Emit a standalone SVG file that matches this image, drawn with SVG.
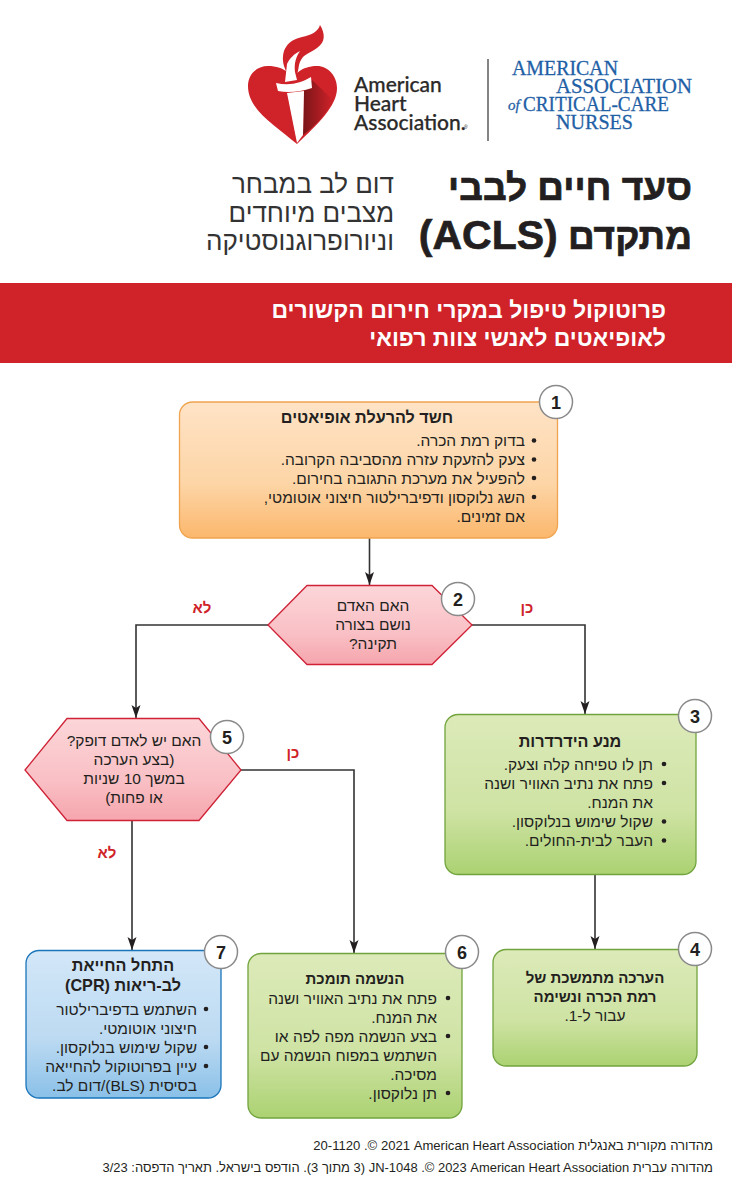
<svg xmlns="http://www.w3.org/2000/svg" width="732" height="1200" viewBox="0 0 732 1200">
<style>
text{font-family:"Liberation Sans",Arial,sans-serif;fill:#231f20}
.r{direction:rtl;text-anchor:start}
.m{direction:rtl;text-anchor:middle}
.b{font-size:15.500px}
.t{font-size:16.200px;font-weight:700}
.t2{font-size:15px;font-weight:700}
.bd{fill:#fff;stroke:#8a8a8a;stroke-width:1.5}
.n{font-size:18px;font-weight:700;text-anchor:middle}
.y{font-size:15px;font-weight:700;fill:#cf2229;text-anchor:middle;direction:rtl}
.dot{fill:#231f20}
.c{fill:none;stroke:#333;stroke-width:1.6;marker-end:url(#a)}
.aa{font-family:"Liberation Serif",serif;font-size:21px;fill:#1f5fa6;stroke:#1f5fa6;stroke-width:.3px}
.ah{font-family:Lato,"Liberation Sans",sans-serif;font-size:21px;font-weight:500;fill:#2b2a29;stroke:#2b2a29;stroke-width:.25px}
.h{font-size:37px;font-weight:700;stroke:#231f20;stroke-width:.7px}
.s{font-size:26px;fill:#333}
.w{font-size:23px;font-weight:700;fill:#fff}
.f{font-size:13px}
</style>
<defs>
<linearGradient id="go" x1="0" y1="0" x2="0" y2="1"><stop offset="0" stop-color="#fee3c6"/><stop offset=".6" stop-color="#fdd5a6"/><stop offset="1" stop-color="#fbb76c"/></linearGradient>
<linearGradient id="gg" x1="0" y1="0" x2="0" y2="1"><stop offset="0" stop-color="#dceab9"/><stop offset=".6" stop-color="#cfe3a4"/><stop offset="1" stop-color="#abd272"/></linearGradient>
<linearGradient id="gp" x1="0" y1="0" x2="0" y2="1"><stop offset="0" stop-color="#fcd6d9"/><stop offset=".6" stop-color="#f9c0c5"/><stop offset="1" stop-color="#f6a5ad"/></linearGradient>
<linearGradient id="gb" x1="0" y1="0" x2="0" y2="1"><stop offset="0" stop-color="#d3e7f8"/><stop offset=".6" stop-color="#bcdaf2"/><stop offset="1" stop-color="#8ac0e8"/></linearGradient>
<linearGradient id="gs" x1="0" y1="0" x2="1" y2="0"><stop offset="0" stop-color="#7a1518"/><stop offset="1" stop-color="#cf2229"/></linearGradient>
<marker id="a" markerUnits="userSpaceOnUse" markerWidth="14" markerHeight="12" refX="13" refY="5" orient="auto"><path d="M0 .5L13 5L0 9.500L3 5Z" fill="#231f20"/></marker>
</defs>
<rect width="732" height="1200" fill="#fff"/>

<g id="logo-aha">
<path d="M297 144C275 125 248 110 248 86C248 74 257 66 268 66C276 66 283 68 290 74L297 73C303 68 309 66 317 66C328 66 337 76 337 88C337 106 318 124 297 144Z" fill="#cf2229"/>
<path d="M304 91L312 80L333 100C327 113 316 125 303 135Z" fill="url(#gs)"/>
<path d="M287 93L304 91L303 135L297 143Z" fill="#fff"/>
<path d="M284 66C280 50 288 40 302 37C311 35 318 32 320 25C325 33 326 42 317 48C310 53 304 54 301 60C298 65 299 70 297 74L287 74Z" fill="#cf2229"/>
<path d="M285 82L287 64C290 58 294 54 300 51C296 57 294 63 295 72L297 80Z" fill="#fff"/>
<path d="M276 83C290 86 301 83 311 77L312 88C300 92 288 93 278 91Z" fill="#fff"/>
<text class="ah" x="354" y="92">American</text>
<text class="ah" x="354" y="111">Heart</text>
<text class="ah" x="354" y="129.500">Association.</text>
<text x="464" y="129" font-size="5" style="fill:#2b2a29">®</text>
</g>
<path d="M488 59V141" stroke="#333" stroke-width="1.200"/>
<g id="logo-aacn">
<text class="aa" x="512" y="75" textLength="106" lengthAdjust="spacingAndGlyphs">AMERICAN</text>
<text class="aa" x="556" y="93" textLength="136" lengthAdjust="spacingAndGlyphs">ASSOCIATION</text>
<text class="aa" x="508" y="110" style="font-size:15px;font-style:italic">of</text>
<text class="aa" x="523" y="111" textLength="146" lengthAdjust="spacingAndGlyphs">CRITICAL-CARE</text>
<text class="aa" x="556" y="129" textLength="77" lengthAdjust="spacingAndGlyphs">NURSES</text>
</g>

<g id="header">
<text class="r h" x="692" y="200">סעד חיים לבבי</text>
<text class="r h" x="692" y="249">מתקדם <tspan font-size="41">(ACLS)</tspan></text>
<text class="r s" x="394" y="193">דום לב במבחר</text>
<text class="r s" x="394" y="222">מצבים מיוחדים</text>
<text class="r s" x="394" y="250">וניורופרוגנוסטיקה</text>
</g>
<g id="band">
<rect x="0" y="283" width="732" height="80" fill="#cf2229"/>
<text class="r w" x="666" y="318">פרוטוקול טיפול במקרי חירום הקשורים</text>
<text class="r w" x="666" y="346">לאופיאטים לאנשי צוות רפואי</text>
</g>

<g id="connectors">
<path class="c" d="M369.500 538V585"/>
<path class="c" d="M268 625H136V718"/>
<path class="c" d="M472 625H585V714"/>
<path class="c" d="M595 874V949"/>
<path class="c" d="M241 770H354V953"/>
<path class="c" d="M132 821V950"/>
</g>
<g id="edge-labels">
<text class="y" x="202" y="613">לא</text>
<text class="y" x="527" y="613">כן</text>
<text class="y" x="293" y="758">כן</text>
<text class="y" x="107" y="858">לא</text>
</g>

<g id="node1">
<rect x="179.500" y="402" width="378" height="136" rx="13" fill="url(#go)" stroke="#f0a44f" stroke-width="1.300"/>
<text class="m t" x="367" y="423">חשד להרעלת אופיאטים</text>
<circle class="dot" cx="534" cy="440.500" r="2.300"/><text class="r b" x="525" y="446">בדוק רמת הכרה.</text>
<circle class="dot" cx="534" cy="459.500" r="2.300"/><text class="r b" x="525" y="464.500">צעק להזעקת עזרה מהסביבה הקרובה.</text>
<circle class="dot" cx="534" cy="478" r="2.300"/><text class="r b" x="525" y="483.500">להפעיל את מערכת התגובה בחירום.</text>
<circle class="dot" cx="534" cy="497" r="2.300"/><text class="r b" x="525" y="502.500">השג נלוקסון ודפיברילטור חיצוני אוטומטי,</text>
<text class="r b" x="525" y="521.500">אם זמינים.</text>
<circle class="bd" cx="556" cy="402" r="16.500"/><text class="n" x="556" y="408.500">1</text>
</g>

<g id="node2">
<path d="M268 625L307 585.500H432L472 625L432 664.500H307Z" fill="url(#gp)" stroke="#cf2237" stroke-width="1.300"/>
<text class="m b" x="373" y="611">האם האדם</text>
<text class="m b" x="373" y="630">נושם בצורה</text>
<text class="m b" x="373" y="649">תקינה?</text>
<circle class="bd" cx="458" cy="599" r="16.500"/><text class="n" x="458" y="605.500">2</text>
</g>

<g id="node3">
<rect x="445" y="714.500" width="251" height="160" rx="13" fill="url(#gg)" stroke="#72a43e" stroke-width="1.300"/>
<text class="m t" x="570" y="747">מנע הידרדרות</text>
<circle class="dot" cx="664" cy="764" r="2.300"/><text class="r b" x="653" y="769.500">תן לו טפיחה קלה וצעק.</text>
<circle class="dot" cx="664" cy="783" r="2.300"/><text class="r b" x="653" y="788.500">פתח את נתיב האוויר ושנה</text>
<text class="r b" x="653" y="807.500">את המנח.</text>
<circle class="dot" cx="664" cy="821.500" r="2.300"/><text class="r b" x="653" y="826.500">שקול שימוש בנלוקסון.</text>
<circle class="dot" cx="664" cy="840.500" r="2.300"/><text class="r b" x="653" y="845.500">העבר לבית-החולים.</text>
<circle class="bd" cx="695" cy="716" r="16.500"/><text class="n" x="695" y="722.500">3</text>
</g>

<g id="node4">
<rect x="493" y="949.500" width="204" height="116.500" rx="13" fill="url(#gg)" stroke="#72a43e" stroke-width="1.300"/>
<text class="m t2" x="595" y="983">הערכה מתמשכת של</text>
<text class="m t2" x="595" y="1002">רמת הכרה ונשימה</text>
<text class="m b" x="595" y="1021">עבור ל-1.</text>
<circle class="bd" cx="695" cy="949" r="16.500"/><text class="n" x="695" y="955.500">4</text>
</g>

<g id="node5">
<path d="M25 770L67 718.500H199L241 770L199 820.500H67Z" fill="url(#gp)" stroke="#cf2237" stroke-width="1.300"/>
<text class="m b" x="134" y="746">האם יש לאדם דופק?</text>
<text class="m b" x="134" y="765">(בצע הערכה</text>
<text class="m b" x="134" y="784">במשך 10 שניות</text>
<text class="m b" x="134" y="803">או פחות)</text>
<circle class="bd" cx="227" cy="737" r="16.500"/><text class="n" x="227" y="743.500">5</text>
</g>

<g id="node6">
<rect x="248" y="953.500" width="214" height="164.500" rx="13" fill="url(#gg)" stroke="#72a43e" stroke-width="1.300"/>
<text class="m t2" x="355" y="984">הנשמה תומכת</text>
<circle class="dot" cx="448" cy="998" r="2.300"/><text class="r b" x="437" y="1003.500">פתח את נתיב האוויר ושנה</text>
<text class="r b" x="437" y="1022.500">את המנח.</text>
<circle class="dot" cx="448" cy="1036" r="2.300"/><text class="r b" x="437" y="1041.500">בצע הנשמה מפה לפה או</text>
<text class="r b" x="437" y="1060.500">השתמש במפוח הנשמה עם</text>
<text class="r b" x="437" y="1079.500">מסיכה.</text>
<circle class="dot" cx="448" cy="1093" r="2.300"/><text class="r b" x="437" y="1098.500">תן נלוקסון.</text>
<circle class="bd" cx="462" cy="952" r="16.500"/><text class="n" x="462" y="958.500">6</text>
</g>

<g id="node7">
<rect x="26" y="950.500" width="195" height="147.500" rx="13" fill="url(#gb)" stroke="#1a75bb" stroke-width="1.300"/>
<text class="m t" x="123" y="971">התחל החייאת</text>
<text class="m t" x="123" y="991">לב-ריאות (CPR)</text>
<circle class="dot" cx="206" cy="1009" r="2.300"/><text class="r b" x="197" y="1014.500">השתמש בדפיברילטור</text>
<text class="r b" x="197" y="1033.500">חיצוני אוטומטי.</text>
<circle class="dot" cx="206" cy="1047" r="2.300"/><text class="r b" x="197" y="1052.500">שקול שימוש בנלוקסון.</text>
<circle class="dot" cx="206" cy="1066" r="2.300"/><text class="r b" x="197" y="1071.500">עיין בפרוטוקול להחייאה</text>
<text class="r b" x="197" y="1090.500">בסיסית (BLS)/דום לב.</text>
<circle class="bd" cx="221" cy="952" r="16.500"/><text class="n" x="221" y="958.500">7</text>
</g>

<g id="footer">
<text class="r f" x="713" y="1150" style="font-size:13.100px">מהדורה מקורית באנגלית &#x200E;© 2021 American Heart Association&#x200F;. 20-1120</text>
<text class="r f" x="713" y="1172" style="font-size:12.950px">מהדורה עברית &#x200E;© 2023 American Heart Association&#x200F;. JN-1048&#x200F; (3 מתוך 3). הודפס בישראל. תאריך הדפסה: 3/23</text>
</g>
</svg>
